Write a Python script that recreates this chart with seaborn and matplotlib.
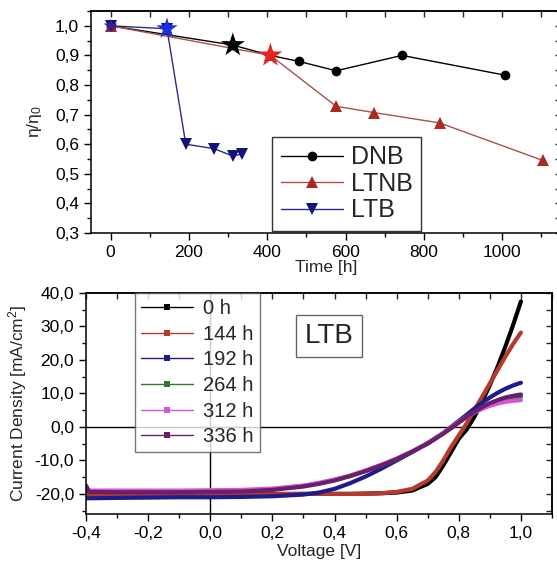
import numpy as np
import pandas as pd
import seaborn as sns
import matplotlib
matplotlib.use("Agg")
from matplotlib import pyplot as plt
from matplotlib.lines import Line2D
from matplotlib.ticker import MultipleLocator, FuncFormatter

# stability data (top panel)
dnb_t = [0, 312, 408, 480, 576, 744, 1008]
dnb_eff = [1.0, 0.935, 0.90, 0.88, 0.848, 0.90, 0.833]
ltnb_t = [0, 408, 576, 672, 840, 1104]
ltnb_eff = [1.0, 0.90, 0.728, 0.707, 0.672, 0.545]
ltb_t = [0, 144, 192, 264, 312, 336]
ltb_eff = [1.0, 0.99, 0.60, 0.585, 0.56, 0.567]
star_t = [0, 144, 312, 408]
star_eff = [1.0, 0.99, 0.935, 0.90]
star_colors = ["#3b2290", "#1b2ee0", "#000000", "#e3241f"]
star_sizes = [110, 260, 330, 330]

# J-V curves of LTB (bottom panel)
voltage = [-0.4, -0.39, -0.3, -0.2, -0.1, 0.0, 0.1, 0.2, 0.3, 0.35, 0.4, 0.45, 0.5, 0.55,
           0.6, 0.65, 0.7, 0.725, 0.75, 0.775, 0.8, 0.825, 0.85, 0.875, 0.9, 0.925, 0.95, 0.975, 1.0]
j_0h = [-20.1, -20.1, -20.1, -20.0, -20.0, -20.0, -20.0, -20.0, -20.0, -20.0, -20.0, -20.0, -19.9, -19.8,
        -19.6, -19.0, -17.0, -15.0, -11.5, -7.5, -3.5, -0.8, 3.0, 7.5, 12.5, 18.0, 24.0, 30.5, 37.5]
j_144h = [-20.3, -20.3, -20.2, -20.2, -20.1, -20.1, -20.1, -20.1, -20.0, -20.0, -20.0, -20.0, -20.0, -19.8,
          -19.4, -18.5, -16.0, -13.5, -10.0, -6.0, -2.5, 1.0, 5.0, 9.0, 13.0, 17.0, 21.0, 24.8, 28.2]
j_192h = [-21.3, -21.3, -21.2, -21.1, -21.0, -21.0, -20.9, -20.7, -20.2, -19.6, -18.5, -16.8, -14.8, -12.5,
          -10.0, -7.5, -4.8, -3.3, -1.8, 0.0, 1.8, 3.6, 5.5, 7.2, 8.8, 10.2, 11.4, 12.4, 13.2]
j_264h = [-18.5, -19.2, -19.3, -19.3, -19.3, -19.2, -19.1, -18.6, -17.6, -16.8, -15.8, -14.6, -13.1, -11.4,
          -9.5, -7.3, -4.9, -3.4, -1.9, -0.3, 1.4, 3.0, 4.4, 5.7, 6.8, 7.7, 8.3, 8.7, 9.0]
j_312h = [-18.0, -19.0, -19.0, -19.0, -19.0, -18.9, -18.8, -18.4, -17.5, -16.7, -15.7, -14.5, -13.0, -11.3,
          -9.5, -7.3, -4.8, -3.4, -1.8, -0.2, 1.5, 3.0, 4.3, 5.4, 6.3, 7.0, 7.5, 7.8, 8.0]
j_336h = [-17.5, -19.4, -19.5, -19.5, -19.5, -19.4, -19.3, -18.8, -17.8, -17.0, -16.0, -14.7, -13.2, -11.5,
          -9.6, -7.4, -5.0, -3.5, -2.0, -0.4, 1.3, 3.0, 4.5, 5.9, 7.1, 8.0, 8.8, 9.3, 9.7]
jv_labels = ["0 h", "144 h", "192 h", "264 h", "312 h", "336 h"]
jv_colors = ["#000000", "#b53a2c", "#1c1c8c", "#2f7a2f", "#d655d6", "#6b1f6b"]

sns.set_theme(style="white")
plt.rcParams["font.family"] = ["Liberation Sans", "DejaVu Sans"]
plt.rcParams["mathtext.fontset"] = "custom"
plt.rcParams["mathtext.rm"] = "Liberation Sans"
plt.rcParams["mathtext.it"] = "Liberation Sans"

fig = plt.figure(figsize=(5.57, 5.63), dpi=100)
W, H = 557, 563
ax1 = fig.add_axes([91 / W, (H - 233) / H, 470 / W, 222 / H])
ax2 = fig.add_axes([86 / W, (H - 514) / H, 466 / W, 221 / H])

comma = FuncFormatter(lambda v, p: f"{v:.1f}".replace(".", ","))


def style_axes(ax):
    for s in ax.spines.values():
        s.set_color("black")
        s.set_linewidth(1.1)
    ax.tick_params(which="both", direction="out", colors="black", labelsize=12.5,
                   top=False, right=False, bottom=True, left=True, width=1.0)
    ax.tick_params(which="major", length=5)
    ax.tick_params(which="minor", length=3)
    sx = ax.secondary_xaxis("top")
    sx.xaxis.set_major_locator(ax.xaxis.get_major_locator())
    sx.xaxis.set_minor_locator(ax.xaxis.get_minor_locator())
    sx.tick_params(which="both", direction="in", labeltop=False, length=4, width=1.0)
    sy = ax.secondary_yaxis("right")
    sy.yaxis.set_major_locator(ax.yaxis.get_major_locator())
    sy.yaxis.set_minor_locator(ax.yaxis.get_minor_locator())
    sy.tick_params(which="both", direction="in", labelright=False, length=4, width=1.0)


# top panel
sns.lineplot(x=dnb_t, y=dnb_eff, ax=ax1, color="black", lw=1.0, marker="o",
             markersize=7, markeredgewidth=0, label="DNB")
sns.lineplot(x=ltnb_t, y=ltnb_eff, ax=ax1, color="#a8524a", lw=1.0, marker="^",
             markersize=9, markerfacecolor="#a82a22", markeredgewidth=0, label="LTNB")
sns.lineplot(x=ltb_t, y=ltb_eff, ax=ax1, color="#2a2a90", lw=1.0, marker="v",
             markersize=9, markerfacecolor="#10137a", markeredgewidth=0, label="LTB")
ax1.scatter(star_t, star_eff, marker="*", s=star_sizes, c=star_colors, zorder=5, linewidths=0)
ax1.set_xlim(-50, 1150)
ax1.set_ylim(0.3, 1.05)
ax1.xaxis.set_major_locator(MultipleLocator(200))
ax1.xaxis.set_minor_locator(MultipleLocator(100))
ax1.yaxis.set_major_locator(MultipleLocator(0.1))
ax1.yaxis.set_minor_locator(MultipleLocator(0.05))
ax1.yaxis.set_major_formatter(comma)
ax1.set_xlabel("Time [h]", fontsize=12.5, labelpad=0)
ax1.set_ylabel(r"$\eta/\eta_0$", fontsize=12.5, labelpad=8)
style_axes(ax1)
leg1 = ax1.legend(loc="lower left", bbox_to_anchor=(0.385, 0.009), borderaxespad=0,
                  fontsize=18, frameon=True, fancybox=False, edgecolor="black",
                  handlelength=2.5, handletextpad=0.3, labelspacing=0.1, borderpad=0.35,
                  numpoints=1)
leg1.get_frame().set_linewidth(1.0)

# bottom panel
jv = pd.DataFrame({"V": voltage * 6,
                   "J": j_0h + j_144h + j_192h + j_264h + j_312h + j_336h,
                   "time": np.repeat(jv_labels, len(voltage))})
sns.lineplot(data=jv, x="V", y="J", hue="time", palette=jv_colors, ax=ax2,
             lw=3.0, legend=False, sort=False)
ax2.axhline(0, color="black", lw=1.0, zorder=0)
ax2.axvline(0, color="black", lw=1.0, zorder=0)
ax2.set_xlim(-0.4, 1.1)
ax2.set_ylim(-26, 40)
ax2.xaxis.set_major_locator(MultipleLocator(0.2))
ax2.xaxis.set_minor_locator(MultipleLocator(0.1))
ax2.yaxis.set_major_locator(MultipleLocator(10))
ax2.yaxis.set_minor_locator(MultipleLocator(5))
ax2.xaxis.set_major_formatter(comma)
ax2.yaxis.set_major_formatter(comma)
ax2.set_xlabel("Voltage [V]", fontsize=12.5, labelpad=2)
ax2.set_ylabel("Current Density [mA/cm$^2$]", fontsize=12.5, labelpad=4)
style_axes(ax2)
handles = [Line2D([], [], color=c, lw=1.0, marker="s", markersize=4, markeredgewidth=0)
           for c in jv_colors]
leg2 = ax2.legend(handles, jv_labels, loc="upper left", bbox_to_anchor=(0.105, 1.0),
                  borderaxespad=0, fontsize=14.5, frameon=True, fancybox=False,
                  edgecolor="#555555", handlelength=2.6, handletextpad=0.5,
                  labelspacing=0.33, borderpad=0.3)
leg2.get_frame().set_linewidth(1.0)
ax2.text(0.521, 0.805, "LTB", transform=ax2.transAxes, fontsize=20, ha="center", va="center",
         bbox=dict(boxstyle="square,pad=0.3", fc="white", ec="#666666", lw=1.0))

fig.savefig("out.png", dpi=100)
